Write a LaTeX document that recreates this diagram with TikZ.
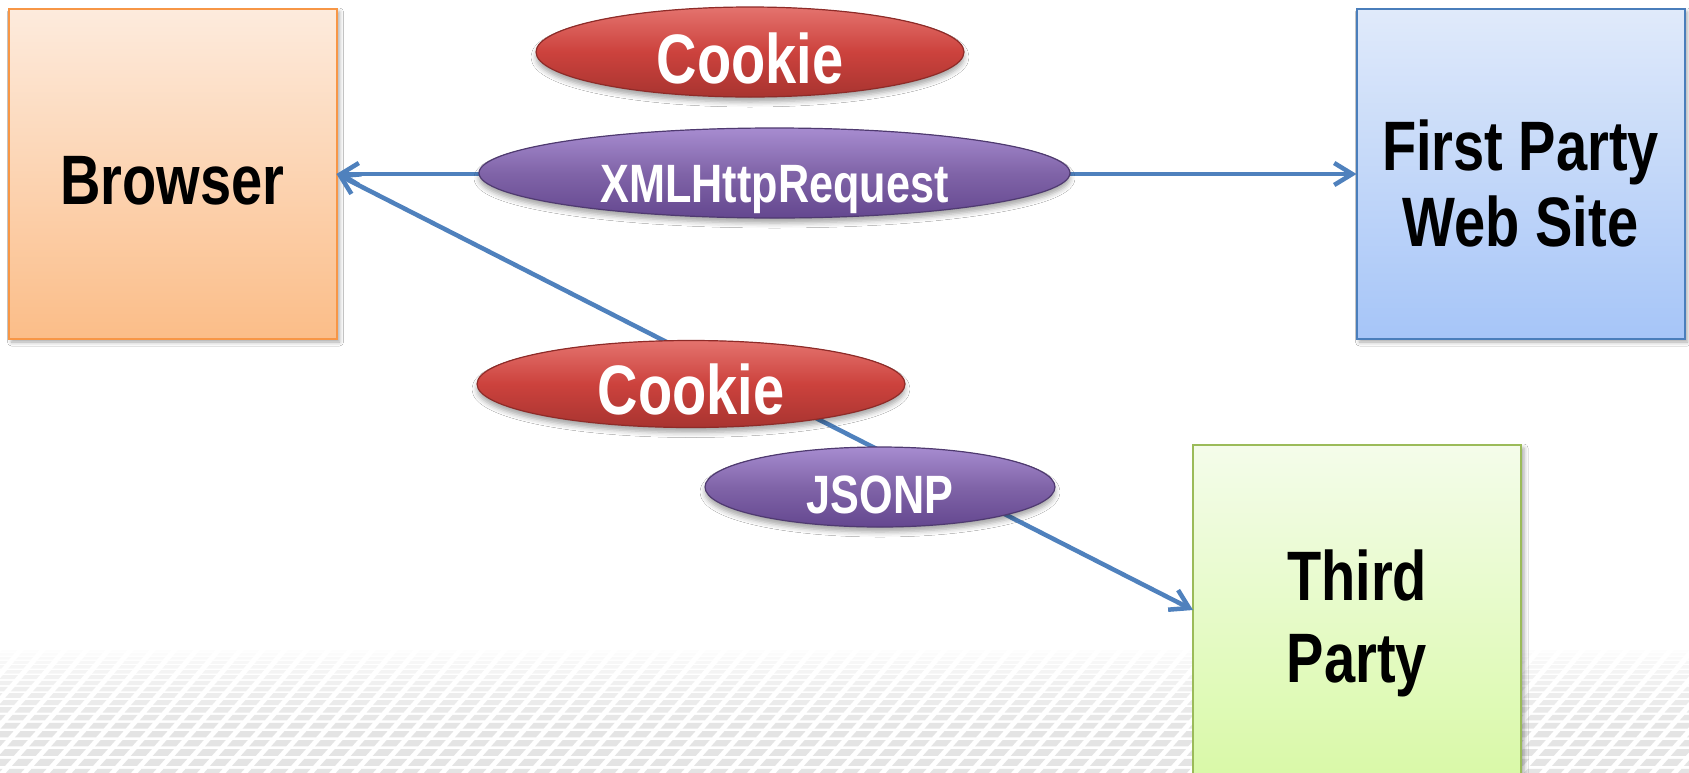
\documentclass[tikz,border=0pt]{standalone}
\usepackage{fontspec}
\setmainfont{Liberation Sans}[FakeStretch=0.8]
\usetikzlibrary{arrows.meta,shapes.geometric,shadows.blur}

\definecolor{linkblue}{HTML}{4F81BD}
\definecolor{gridgray}{HTML}{E4E4E4}
\definecolor{orangetop}{HTML}{FDEBDD}
\definecolor{orangebot}{HTML}{FBBD88}
\definecolor{orangeedge}{HTML}{F79646}
\definecolor{bluetop}{HTML}{E0EAFA}
\definecolor{bluebot}{HTML}{A6C5F8}
\definecolor{blueedge}{HTML}{4A7EBB}
\definecolor{greentop}{HTML}{F4FCEA}
\definecolor{greenbot}{HTML}{D9F9A8}
\definecolor{greenedge}{HTML}{9BBB59}
\definecolor{redtop}{HTML}{E4736E}
\definecolor{redmid}{HTML}{CC423D}
\definecolor{redbot}{HTML}{A83430}
\definecolor{rededge}{HTML}{8E2B28}
\definecolor{purptop}{HTML}{A78CD0}
\definecolor{purpmid}{HTML}{8064A8}
\definecolor{purpbot}{HTML}{64478F}
\definecolor{purpedge}{HTML}{4F3A70}

% strut that lowers a two-line label inside its panel
\newcommand{\panelstrut}{\rule{0pt}{70pt}}

\tikzset{
  panel/.style={rectangle, minimum width=328pt, minimum height=330pt,
    inner sep=0pt, outer sep=0pt, line width=2pt, align=center,
    font=\bfseries\fontsize{70pt}{76pt}\selectfont,
    blur shadow={shadow xshift=3pt, shadow yshift=-3pt,
      shadow blur radius=4pt, shadow opacity=35}},
  pill/.style={ellipse, inner sep=0pt, outer sep=0pt, line width=1.2pt,
    text=white, text depth=0pt,
    blur shadow={shadow xshift=0pt, shadow yshift=-5pt,
      shadow blur radius=5pt, shadow opacity=35}},
  redpill/.style={pill, draw=rededge, top color=redtop, bottom color=redbot,
    middle color=redmid},
  purplepill/.style={pill, draw=purpedge, top color=purptop,
    bottom color=purpbot, middle color=purpmid},
  bigtext/.style={font=\bfseries\fontsize{70pt}{70pt}\selectfont},
  smalltext/.style={font=\bfseries\fontsize{54pt}{54pt}\selectfont},
  barb/.tip={Straight Barb[length=18pt,width=22pt]},
  link/.style={draw=linkblue, line width=4.5pt, barb-barb},
}

\begin{document}
\begin{tikzpicture}[x=1pt,y=-1pt]
\useasboundingbox (0,0) rectangle (1689,772);
\clip (0,0) rectangle (1689,772);
\fill[white] (0,0) rectangle (1689,772);

% floor grid of slanted tiles, rows growing downwards and fading out upwards
\foreach \k in {0,...,18}{
  \pgfmathsetmacro\yt{650+3*\k+0.2*\k*\k}
  \pgfmathsetmacro\yb{650+3*(\k+1)+0.2*(\k+1)*(\k+1)}
  \pgfmathsetmacro\hc{0.7*(\yb-\yt)}
  \pgfmathsetmacro\sl{0.9*\hc}
  \pgfmathsetmacro\op{min(1,(\k+1)/15)}
  \pgfmathsetmacro\off{-0.9*(\yt-650)}
  \foreach \i in {-2,...,84}{
    \fill[gridgray, opacity=\op]
      ({\off+\i*22},{\yt+\hc}) -- ++(15,0) -- ++(\sl,-\hc) -- ++(-15,0) -- cycle;
  }
}

% endpoints
\node[panel, draw=orangeedge, top color=orangetop, bottom color=orangebot,
  text height=60pt, text depth=0pt]
  (browser) at (172.5,174) {Browser};
\node[panel, draw=blueedge, top color=bluetop, bottom color=bluebot]
  (first) at (1520.5,174) {\panelstrut First Party\\Web Site};
\node[panel, draw=greenedge, top color=greentop, bottom color=greenbot,
  font=\bfseries\fontsize{70pt}{82pt}\selectfont]
  (third) at (1357,610) {\rule{0pt}{78pt}Third\\Party};

% requests
\draw[link] (browser.east) -- (first.west);
\draw[link] (browser.east) -- (third.west);

% labels on the requests
\node[redpill, bigtext, minimum width=428pt, minimum height=90pt, text height=62pt]
  (cookietop) at (750,52) {Cookie};
\node[purplepill, smalltext, minimum width=591pt, minimum height=90pt, text height=58pt]
  (xhr) at (774.5,173) {XMLHttpRequest};
\node[redpill, bigtext, minimum width=428pt, minimum height=87pt, text height=60pt]
  (cookiebot) at (691,384) {Cookie};
\node[purplepill, smalltext, minimum width=350pt, minimum height=80pt, text height=52pt]
  (jsonp) at (880,487) {JSONP};
\end{tikzpicture}
\end{document}
